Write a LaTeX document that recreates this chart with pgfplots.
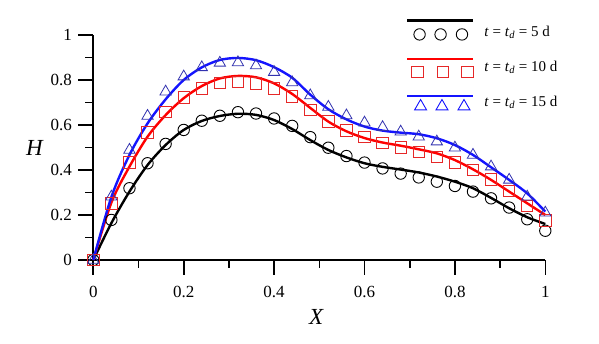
\documentclass[border=0pt]{standalone}
\usepackage{pgfplots}
\pgfplotsset{compat=1.18}
\usepackage{fontspec}
\setmainfont{Liberation Serif}
\definecolor{cred}{RGB}{255,0,0}
\definecolor{cblue}{RGB}{20,20,255}
\definecolor{ctri}{RGB}{50,50,175}
\definecolor{csq}{RGB}{230,40,40}
\begin{document}
\begin{tikzpicture}
\useasboundingbox (-93.3pt,-84pt) rectangle (505.7pt,260pt);
\begin{axis}[
  at={(0pt,0pt)}, anchor=south west,
  scale only axis, width=452pt, height=225pt,
  xmin=0, xmax=1, ymin=0, ymax=1,
  axis lines=left, axis line style={-, line width=1.6pt},
  clip=false,
  xtick={0,0.2,0.4,0.6,0.8,1}, ytick={0,0.2,0.4,0.6,0.8,1},
  xticklabels={0,0.2,0.4,0.6,0.8,1}, yticklabels={0,0.2,0.4,0.6,0.8,1},
  minor x tick num=1, minor y tick num=1,
  tick align=outside,
  major tick length=15pt, minor tick length=8pt,
  every tick/.style={black, line width=1.6pt},
  tick label style={font=\fontsize{17}{20}\selectfont},
  xticklabel style={yshift=-8pt},
  yticklabel style={xshift=-3pt},
  /pgf/number format/assume math mode=true,
  xlabel={\textit{X}}, ylabel={\textit{H}},
  every axis x label/.style={at={(axis description cs:0.494,0)}, anchor=center, yshift=-56.7pt, font=\fontsize{23}{27}\selectfont},
  every axis y label/.style={at={(axis description cs:0,0.498)}, anchor=center, xshift=-58.3pt, font=\fontsize{23}{27}\selectfont},
  legend style={at={(axis description cs:0.692,1.075)}, anchor=north west, draw=none, fill=none,
     font=\fontsize{15}{18}\selectfont, row sep=9pt, inner sep=0pt, outer sep=0pt,
     nodes={inner sep=0pt}, column sep=10pt},
  legend cell align=left,
]
% ---- line, t_d = 5 d
\addplot[black, line width=2.4pt, smooth, tension=0.5,
  legend image code/.code={
    \path[draw=none, fill=none] (0pt,-12pt) rectangle (66pt,14pt);
    \draw[black, line width=2.4pt] (0pt,11.7pt) -- (66pt,11.7pt);
    \draw[black, line width=0.9pt] (12.3pt,-2.3pt) circle[radius=5.7pt] (33.3pt,-2.3pt) circle[radius=5.7pt] (54.7pt,-2.3pt) circle[radius=5.7pt];
  }] coordinates {
(0,0) (0.04,0.164) (0.08,0.304) (0.12,0.422) (0.16,0.511) (0.20,0.578) (0.24,0.618)
(0.28,0.640) (0.32,0.650) (0.36,0.645) (0.40,0.622) (0.44,0.582) (0.48,0.533)
(0.52,0.489) (0.56,0.456) (0.60,0.430) (0.64,0.414) (0.68,0.402) (0.72,0.389)
(0.76,0.371) (0.80,0.348) (0.84,0.319) (0.88,0.276) (0.92,0.230) (0.96,0.190) (1.00,0.160)};
\addlegendentry{\textit{t} = \textit{t}\textsubscript{\textit{d}} = 5 d}
% ---- line, t_d = 10 d
\addplot[cred, line width=2.4pt, smooth, tension=0.5,
  legend image code/.code={
    \path[draw=none, fill=none] (0pt,-12pt) rectangle (66pt,14pt);
    \draw[cred, line width=2.4pt] (0pt,8pt) -- (66pt,8pt);
    \draw[csq, line width=0.9pt] (4.3pt,-10.4pt) rectangle ++(11.4pt,11.4pt) (30pt,-10.4pt) rectangle ++(11.4pt,11.4pt) (54.3pt,-10.4pt) rectangle ++(11.4pt,11.4pt);
  }] coordinates {
(0,0) (0.04,0.255) (0.08,0.415) (0.12,0.548) (0.16,0.644) (0.20,0.719) (0.24,0.773)
(0.28,0.807) (0.32,0.818) (0.36,0.812) (0.40,0.785) (0.44,0.738) (0.48,0.676)
(0.52,0.615) (0.56,0.572) (0.60,0.542) (0.64,0.522) (0.68,0.508) (0.72,0.492)
(0.76,0.474) (0.80,0.444) (0.84,0.403) (0.88,0.356) (0.92,0.304) (0.96,0.252) (1.00,0.200)};
\addlegendentry{\textit{t} = \textit{t}\textsubscript{\textit{d}} = 10 d}
% ---- line, t_d = 15 d
\addplot[cblue, line width=2.4pt, smooth, tension=0.5,
  legend image code/.code={
    \path[draw=none, fill=none] (0pt,-12pt) rectangle (66pt,14pt);
    \draw[cblue, line width=2.4pt] (0pt,6pt) -- (66pt,6pt);
    \draw[cblue, line width=0.9pt] (7.3pt,-7.8pt) -- (19.3pt,-7.8pt) -- (13.3pt,2.6pt) -- cycle
       (28.7pt,-7.8pt) -- (40.7pt,-7.8pt) -- (34.7pt,2.6pt) -- cycle
       (50.7pt,-7.8pt) -- (62.7pt,-7.8pt) -- (56.7pt,2.6pt) -- cycle;
  }] coordinates {
(0,0) (0.04,0.280) (0.08,0.467) (0.12,0.607) (0.16,0.714) (0.20,0.800) (0.24,0.856)
(0.28,0.889) (0.32,0.898) (0.36,0.888) (0.40,0.857) (0.44,0.810) (0.48,0.735)
(0.52,0.670) (0.56,0.625) (0.60,0.593) (0.64,0.575) (0.68,0.566) (0.72,0.559)
(0.76,0.541) (0.80,0.511) (0.84,0.467) (0.88,0.412) (0.92,0.356) (0.96,0.296) (1.00,0.215)};
\addlegendentry{\textit{t} = \textit{t}\textsubscript{\textit{d}} = 15 d}
% ---- markers
\addplot[only marks, mark=o, mark size=5.7pt, black, mark options={line width=0.9pt}, forget plot] coordinates {
(0,0) (0.04,0.178) (0.08,0.319) (0.12,0.430) (0.16,0.516) (0.20,0.578) (0.24,0.619)
(0.28,0.641) (0.32,0.657) (0.36,0.651) (0.40,0.629) (0.44,0.596) (0.48,0.546)
(0.52,0.499) (0.56,0.462) (0.60,0.433) (0.64,0.407) (0.68,0.384) (0.72,0.367)
(0.76,0.348) (0.80,0.329) (0.84,0.304) (0.88,0.274) (0.92,0.233) (0.96,0.181) (1.00,0.130)};
\addplot[only marks, mark=square, mark size=5.7pt, csq, mark options={line width=0.9pt}, forget plot] coordinates {
(0,0) (0.04,0.252) (0.08,0.434) (0.12,0.566) (0.16,0.659) (0.20,0.723) (0.24,0.763)
(0.28,0.788) (0.32,0.792) (0.36,0.785) (0.40,0.763) (0.44,0.726) (0.48,0.668)
(0.52,0.615) (0.56,0.575) (0.60,0.548) (0.64,0.521) (0.68,0.501) (0.72,0.481)
(0.76,0.459) (0.80,0.433) (0.84,0.400) (0.88,0.358) (0.92,0.307) (0.96,0.240) (1.00,0.175)};
\addplot[only marks, mark=triangle, mark size=6.5pt, ctri, mark options={line width=0.8pt}, forget plot] coordinates {
(0,0) (0.04,0.281) (0.08,0.489) (0.12,0.640) (0.16,0.748) (0.20,0.815) (0.24,0.856)
(0.28,0.876) (0.32,0.878) (0.36,0.864) (0.40,0.835) (0.44,0.789) (0.48,0.731)
(0.52,0.680) (0.56,0.642) (0.60,0.610) (0.64,0.590) (0.68,0.570) (0.72,0.548)
(0.76,0.526) (0.80,0.499) (0.84,0.467) (0.88,0.415) (0.92,0.356) (0.96,0.281) (1.00,0.210)};
\end{axis}
\end{tikzpicture}
\end{document}
